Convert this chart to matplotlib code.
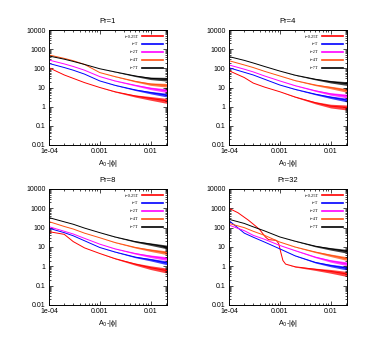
"""
Four log-log panels: spectrum-like curves vs A0-|phi| for several Prandtl numbers.
"""

import matplotlib
matplotlib.use("Agg")
import matplotlib.pyplot as plt
import numpy as np

# shared x grid (A0-|phi|)
X = [1e-4, 2e-4, 3e-4, 5e-4, 1e-3, 2e-3, 5e-3, 1e-2, 2.1e-2]

LABELS = ["t=0.25T", "t=T", "t=2T", "t=4T", "t=7T"]
COLORS = ["#ff0000", "#0000ff", "#ff00ff", "#ff5010", "#000000"]
TITLES = ["Pr=1", "Pr=4", "Pr=8", "Pr=32"]

# Pr=1, order: 0.25T, T, 2T, 4T, 7T
PR1 = [
    [107, 45, 30, 18, 10, 6.0, 3.6, 2.7, 2.0],
    [180, 110, 80, 50, 22, 13, 7.5, 5.4, 4.0],
    [270, 170, 125, 80, 37, 22, 13, 9.0, 6.8],
    [500, 330, 250, 160, 60, 37, 21, 15, 13],
    [440, 300, 230, 160, 95, 65, 40, 30, 27],
]
# Pr=4
PR4 = [
    [75, 33, 17, 10.5, 6.0, 3.2, 1.6, 1.07, 0.9],
    [107, 62, 45, 27, 13.5, 8.0, 4.5, 3.1, 2.2],
    [150, 90, 65, 40, 22, 12.5, 6.8, 4.6, 3.6],
    [250, 150, 110, 70, 40, 23, 13.5, 10, 7.0],
    [410, 260, 190, 125, 72, 44, 27, 20, 16],
]
# Pr=8
PR8 = [
    [62, 45, 19, 9.0, 4.6, 2.5, 1.3, 0.85, 0.6],
    [93, 55, 38, 21, 9.4, 5.5, 3.0, 2.2, 1.5],
    [112, 65, 47, 28, 14, 8.0, 4.6, 3.3, 2.5],
    [205, 115, 85, 52, 30, 17, 9.5, 6.8, 5.0],
    [330, 200, 150, 95, 55, 33, 19, 14, 10],
]
# Pr=32 (t=0.25T has its own x grid below)
PR32 = [
    None,
    [230, 52, 32, 18, 8.0, 3.5, 1.6, 1.1, 0.8],
    [135, 70, 40, 25, 12, 6.5, 3.0, 1.9, 1.35],
    [165, 100, 65, 40, 18, 10, 5.5, 3.7, 2.5],
    [270, 165, 110, 68, 33, 20, 11, 8.0, 6.0],
]
PR32_RED_X = [1e-4, 1.5e-4, 2.4e-4, 3.3e-4, 4e-4, 5.2e-4, 6e-4, 8.5e-4,
              9.5e-4, 1.05e-3, 1.15e-3, 1.3e-3, 2e-3, 5e-3, 1e-2, 2.1e-2]
PR32_RED_Y = [1000, 590, 245, 124, 80, 33, 24, 22,
              15, 5.0, 2.0, 1.3, 0.95, 0.7, 0.55, 0.4]

# multiplicative spread of the noisy tail (on X)
NOISE = [1, 1, 1, 1, 1, 1.02, 1.08, 1.16, 1.25]
NOISE_RED = [1, 1, 1, 1, 1, 1.04, 1.14, 1.25, 1.35]
PR32_RED_NOISE = [1, 1, 1, 1, 1, 1, 1, 1, 1, 1, 1, 1, 1.04, 1.14, 1.25, 1.35]

PANELS = [PR1, PR4, PR8, PR32]
POSITIONS = [
    [0.1256, 0.5748, 0.3026, 0.3372],
    [0.5872, 0.5748, 0.3026, 0.3372],
    [0.1256, 0.1056, 0.3026, 0.3402],
    [0.5872, 0.1056, 0.3026, 0.3402],
]

YTICKS = [0.01, 0.1, 1, 10, 100, 1000, 10000]
YTICKLABELS = ["0.01", "0.1", "1", "10", "100", "1000", "10000"]
XTICKS = [1e-4, 1e-3, 1e-2]
XTICKLABELS = ["1e-04", "0.001", "0.01"]


def draw_curve(ax, x, y, noise, color, label):
    x = np.asarray(x)
    y = np.asarray(y, dtype=float)
    n = np.asarray(noise)
    ax.fill_between(x, y / n, y * n, color=color, alpha=0.75, lw=0)
    ax.plot(x, y, color=color, lw=0.7, label=label)


def main():
    plt.rcParams["font.family"] = ["Liberation Sans", "DejaVu Sans"]
    fig = plt.figure(figsize=(3.9, 3.41), dpi=100)

    for k, curves in enumerate(PANELS):
        ax = fig.add_axes(POSITIONS[k])
        for i, ys in enumerate(curves):
            if ys is None:
                draw_curve(ax, PR32_RED_X, PR32_RED_Y, PR32_RED_NOISE,
                           COLORS[i], LABELS[i])
            else:
                noise = NOISE_RED if i == 0 else NOISE
                draw_curve(ax, X, ys, noise, COLORS[i], LABELS[i])

        ax.set_xscale("log")
        ax.set_yscale("log")
        ax.set_xlim(1e-4, 0.021)
        ax.set_ylim(0.01, 10000)
        ax.set_xticks(XTICKS)
        ax.set_xticklabels(XTICKLABELS)
        ax.set_yticks(YTICKS)
        ax.set_yticklabels(YTICKLABELS)
        ax.tick_params(which="both", direction="in", top=True, right=True,
                       labelsize=5, pad=2.5, width=0.5)
        ax.tick_params(which="major", length=3)
        ax.tick_params(which="minor", length=1.5)
        for s in ax.spines.values():
            s.set_linewidth(0.7)
        ax.set_title(TITLES[k], fontsize=5.5, pad=5)
        ax.set_xlabel("A$_0$-|ϕ|", fontsize=5, labelpad=2)

        leg = ax.legend(loc="upper right", frameon=False, markerfirst=False,
                        prop={"family": "Liberation Serif", "size": 3.2},
                        handlelength=4.6, labelspacing=0.85, handletextpad=1.0,
                        borderaxespad=0.6)
        for h in leg.get_lines():
            h.set_linewidth(1.2)

    plt.savefig("out.png", dpi=100)
    plt.close()


if __name__ == "__main__":
    main()
